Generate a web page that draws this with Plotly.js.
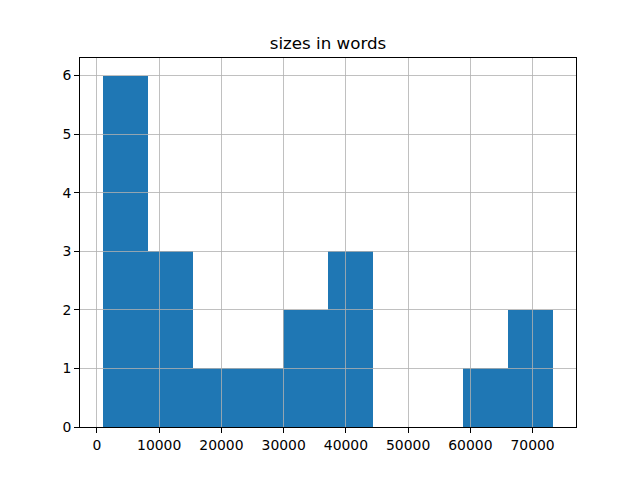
<!DOCTYPE html>
<html>
<head>
<meta charset="utf-8">
<script src="https://cdn.plot.ly/plotly-3.0.1.min.js"></script>
<style>html,body{margin:0;padding:0;background:#fff;}#chart{width:640px;height:480px;}</style>
</head>
<body>
<div id="chart"></div>
<script>
// Histogram of "sizes in words": 10 bins
const binEdges = [900, 8145, 15390, 22635, 29880, 37125, 44370, 51615, 58860, 66105, 73350];
const counts = [6, 3, 1, 1, 2, 3, 0, 0, 1, 2];
const chartTitle = "sizes in words";
const xTickVals = [0, 10000, 20000, 30000, 40000, 50000, 60000, 70000];
const yTickVals = [0, 1, 2, 3, 4, 5, 6];

const centers = counts.map((c, i) => (binEdges[i] + binEdges[i + 1]) / 2);
const widths = counts.map((c, i) => binEdges[i + 1] - binEdges[i]);
const lo = binEdges[0], hi = binEdges[binEdges.length - 1];
const span = hi - lo;
const xRange = [lo - 0.05 * span, hi + 0.05 * span];
const yRange = [0, Math.max(...counts) * 1.05];

const font = {family: "DejaVu Sans", size: 13.9, color: "#000"};

const traces = [
  {type: "bar", x: centers, y: counts, width: widths, marker: {color: "#1f77b4", line: {width: 0}},
   xaxis: "x", yaxis: "y", hoverinfo: "skip"},
  {type: "scatter", x: [], y: [], xaxis: "x2", yaxis: "y2", hoverinfo: "skip", showlegend: false}
];

const hidden = {visible: true, showgrid: false, zeroline: false, showticklabels: false, ticks: "", showline: false};

const layout = {
  width: 640, height: 480,
  margin: {l: 80, r: 64, t: 58, b: 53, pad: 0},
  paper_bgcolor: "#fff", plot_bgcolor: "rgba(0,0,0,0)",
  showlegend: false, bargap: 0,
  font: font,
  title: {text: chartTitle, font: {family: "DejaVu Sans", size: 16.7, color: "#000"},
          x: 0.5, xanchor: "center", xref: "paper", y: 1, yref: "paper", yanchor: "bottom", pad: {b: 9}},
  xaxis: Object.assign({}, hidden, {range: xRange, domain: [0, 1], anchor: "y"}),
  yaxis: Object.assign({}, hidden, {range: yRange, domain: [0, 1], anchor: "x"}),
  xaxis2: {range: xRange, domain: [0, 1], anchor: "y2", tickmode: "array", tickvals: xTickVals,
           tickformat: "d", showgrid: true, gridcolor: "#b0b0b0", gridwidth: 0.8, zeroline: false,
           showline: true, linecolor: "#000", linewidth: 1, mirror: true,
           ticks: "outside", ticklen: 5, tickwidth: 1, tickcolor: "#000", tickfont: font},
  yaxis2: {range: yRange, domain: [0, 1], anchor: "x2", tickmode: "array", tickvals: yTickVals,
           showgrid: true, gridcolor: "#b0b0b0", gridwidth: 0.8, zeroline: false,
           showline: true, linecolor: "#000", linewidth: 1, mirror: true,
           ticks: "outside", ticklen: 5, tickwidth: 1, tickcolor: "#000", tickfont: font}
};

Plotly.newPlot("chart", traces, layout, {staticPlot: true, displayModeBar: false});
</script>
</body>
</html>
